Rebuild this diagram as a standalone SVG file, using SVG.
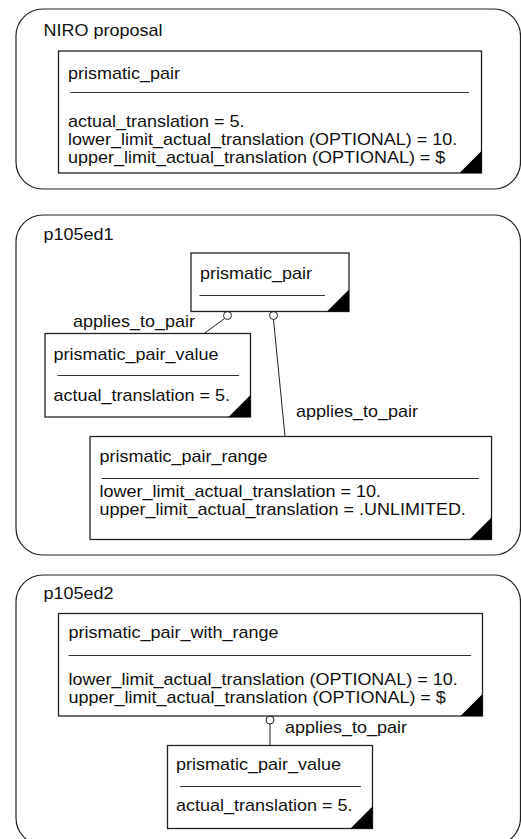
<svg xmlns="http://www.w3.org/2000/svg" width="521" height="839" viewBox="0 0 521 839">
  <style>
    .frame { fill: #ffffff; stroke: #222222; stroke-width: 1.2; }
    .box { fill: #ffffff; stroke: #222222; stroke-width: 1.3; }
    .sep { stroke: #333333; stroke-width: 1; fill: none; }
    .corner { fill: #000000; stroke: none; }
    .link { stroke: #222222; stroke-width: 1; fill: none; }
    .ring { fill: #ffffff; stroke: #222222; stroke-width: 1; }
    text { font-family: "Liberation Sans", Arial, sans-serif; font-size: 16px; fill: #111111; }
  </style>
  <rect width="521" height="839" fill="#ffffff"/>

  <!-- NIRO proposal -->
  <g id="frame-niro">
    <rect class="frame" x="16" y="9" width="504.5" height="180" rx="27" ry="27"/>
    <text transform="matrix(1.125 0 0 1 43.5 36)">NIRO proposal</text>
  </g>
  <g id="niro-prismatic_pair">
    <rect class="box" x="58.5" y="51" width="423" height="122"/>
    <text transform="matrix(1.125 0 0 1 68 78.5)">prismatic_pair</text>
    <line class="sep" x1="70.5" y1="92.5" x2="469" y2="92.5"/>
    <text transform="matrix(1.125 0 0 1 68 127)">actual_translation = 5.</text>
    <text transform="matrix(1.125 0 0 1 68 145)">lower_limit_actual_translation (OPTIONAL) = 10.</text>
    <text transform="matrix(1.125 0 0 1 68 163)">upper_limit_actual_translation (OPTIONAL) = $</text>
    <polygon class="corner" points="481.5,151 481.5,173 459.5,173"/>
  </g>

  <!-- p105ed1 -->
  <g id="frame-p105ed1">
    <rect class="frame" x="16" y="215" width="504.5" height="340" rx="27" ry="27"/>
    <text transform="matrix(1.125 0 0 1 43.5 239.5)">p105ed1</text>
  </g>
  <g id="ed1-connectors">
    <line class="link" x1="224.5" y1="318.5" x2="203.5" y2="334"/>
    <line class="link" x1="273.5" y1="319.5" x2="285" y2="436.5"/>
    <circle class="ring" cx="227.5" cy="315.5" r="4"/>
    <circle class="ring" cx="273.5" cy="315.5" r="4"/>
    <text transform="matrix(1.125 0 0 1 73 327)">applies_to_pair</text>
    <text transform="matrix(1.125 0 0 1 296 417)">applies_to_pair</text>
  </g>
  <g id="ed1-prismatic_pair">
    <rect class="box" x="191" y="253" width="158" height="58.5"/>
    <text transform="matrix(1.125 0 0 1 200 279)">prismatic_pair</text>
    <line class="sep" x1="199.5" y1="295.5" x2="325" y2="295.5"/>
    <polygon class="corner" points="349,289.5 349,311.5 327,311.5"/>
  </g>
  <g id="ed1-prismatic_pair_value">
    <rect class="box" x="45" y="333.5" width="205.5" height="83.5"/>
    <text transform="matrix(1.125 0 0 1 53.5 360)">prismatic_pair_value</text>
    <line class="sep" x1="57.5" y1="375.5" x2="239" y2="375.5"/>
    <text transform="matrix(1.125 0 0 1 53.5 400.5)">actual_translation = 5.</text>
    <polygon class="corner" points="250.5,395 250.5,417 228.5,417"/>
  </g>
  <g id="ed1-prismatic_pair_range">
    <rect class="box" x="90" y="436.5" width="401.5" height="103"/>
    <text transform="matrix(1.125 0 0 1 99.5 462)">prismatic_pair_range</text>
    <line class="sep" x1="101.5" y1="478.5" x2="479" y2="478.5"/>
    <text transform="matrix(1.125 0 0 1 99.5 496.5)">lower_limit_actual_translation = 10.</text>
    <text transform="matrix(1.125 0 0 1 99.5 514.5)">upper_limit_actual_translation = .UNLIMITED.</text>
    <polygon class="corner" points="491.5,517.5 491.5,539.5 469.5,539.5"/>
  </g>

  <!-- p105ed2 -->
  <g id="frame-p105ed2">
    <rect class="frame" x="16" y="575" width="504.5" height="270" rx="27" ry="27"/>
    <text transform="matrix(1.125 0 0 1 43.5 598.5)">p105ed2</text>
  </g>
  <g id="ed2-connectors">
    <line class="link" x1="270" y1="724" x2="270" y2="745.5"/>
    <circle class="ring" cx="270" cy="720" r="4"/>
    <text transform="matrix(1.125 0 0 1 285 733)">applies_to_pair</text>
  </g>
  <g id="ed2-prismatic_pair_with_range">
    <rect class="box" x="58.5" y="613.5" width="424" height="102.5"/>
    <text transform="matrix(1.125 0 0 1 68.5 637.5)">prismatic_pair_with_range</text>
    <line class="sep" x1="68.5" y1="655.5" x2="471" y2="655.5"/>
    <text transform="matrix(1.125 0 0 1 68.5 684.5)">lower_limit_actual_translation (OPTIONAL) = 10.</text>
    <text transform="matrix(1.125 0 0 1 68.5 702.5)">upper_limit_actual_translation (OPTIONAL) = $</text>
    <polygon class="corner" points="482.5,694 482.5,716 460.5,716"/>
  </g>
  <g id="ed2-prismatic_pair_value">
    <rect class="box" x="167.5" y="745.5" width="205" height="83"/>
    <text transform="matrix(1.125 0 0 1 176 769.5)">prismatic_pair_value</text>
    <line class="sep" x1="180" y1="786.5" x2="361" y2="786.5"/>
    <text transform="matrix(1.125 0 0 1 176 811)">actual_translation = 5.</text>
    <polygon class="corner" points="372.5,806.5 372.5,828.5 350.5,828.5"/>
  </g>
</svg>
